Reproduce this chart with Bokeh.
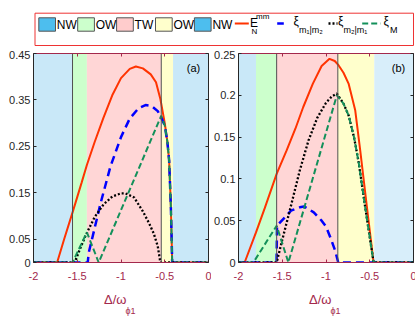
from bokeh.plotting import figure
from bokeh.layouts import column, row
from bokeh.models import Range1d, FixedTicker, LinearAxis, Span, Label
from bokeh.embed import file_html
from bokeh.resources import INLINE
from bokeh.core.properties import value

# ---------------- data ----------------
x_ticks = [-2, -1.5, -1, -0.5, 0]
x_tick_labels = ["-2", "-1.5", "-1", "-0.5", "0"]
x_label_main = "Δ/ω"
x_label_sub = "ϕ1"

a_yticks = [0, 0.05, 0.15, 0.25, 0.35, 0.45]
a_ytick_labels = ["0", "0.05", "0.15", "0.25", "0.35", "0.45"]
b_yticks = [0, 0.05, 0.1, 0.15, 0.2, 0.25]
b_ytick_labels = ["0", "0.05", "0.1", "0.15", "0.2", "0.25"]

region_names = ["NW", "OW", "TW", "OW", "NW"]
a_bounds = [-2, -1.554, -1.39, -0.54, -0.405, 0]
a_lines = [-1.554, -0.54]
a_ymax = 0.45
b_bounds = [-2, -1.80, -1.564, -0.865, -0.448, 0]
b_lines = [-1.564, -0.865]
b_ymax = 0.25

# panel (a)
a_EN_x = [-2, -1.73, -1.65, -1.55, -1.45, -1.39, -1.3, -1.2, -1.1, -1.0, -0.9, -0.83,
          -0.75, -0.66, -0.6, -0.55, -0.5, -0.47, -0.45, -0.43, -0.415, 0]
a_EN_y = [0, 0, 0.05, 0.11, 0.172, 0.21, 0.26, 0.312, 0.36, 0.397, 0.417, 0.422,
          0.418, 0.405, 0.388, 0.352, 0.30, 0.26, 0.22, 0.12, 0, 0]
a_x12_x = [-2, -1.38, -1.37, -1.3, -1.234, -1.12, -1.0, -0.9, -0.8, -0.72, -0.65, -0.58,
           -0.54, -0.5, -0.47, -0.45, -0.43, -0.415, 0]
a_x12_y = [0, 0, 0.02, 0.075, 0.127, 0.207, 0.27, 0.31, 0.332, 0.339, 0.337, 0.326,
           0.312, 0.295, 0.26, 0.22, 0.12, 0, 0]
a_x21_x = [-2, -1.53, -1.46, -1.4, -1.3, -1.2, -1.1, -1.0, -0.95, -0.85, -0.75, -0.68,
           -0.625, -0.58, -0.55, 0]
a_x21_y = [0, 0, 0.033, 0.06, 0.098, 0.125, 0.142, 0.149, 0.149, 0.14, 0.11, 0.085,
           0.062, 0.035, 0, 0]
a_xM_x = [-2, -1.554, -1.39, -1.255, -0.54, -0.5, -0.47, -0.45, -0.43, -0.415, 0]
a_xM_y = [0, 0, 0.065, 0, 0.316, 0.295, 0.26, 0.22, 0.12, 0, 0]

# panel (b)
b_EN_x = [-2, -1.93, -1.8, -1.7, -1.564, -1.45, -1.35, -1.26, -1.15, -1.05, -0.96, -0.9,
          -0.857, -0.8, -0.742, -0.666, -0.609, -0.532, -0.456, 0]
b_EN_y = [0, 0, 0.036, 0.065, 0.106, 0.134, 0.16, 0.186, 0.214, 0.235, 0.2436, 0.241,
          0.236, 0.227, 0.214, 0.182, 0.134, 0.066, 0, 0]
b_x12_x = [-2, -1.565, -1.56, -1.47, -1.4, -1.3, -1.25, -1.14, -1.05, -1.0, -0.95,
           -0.895, -0.86, 0]
b_x12_y = [0, 0, 0.044, 0.054, 0.062, 0.066, 0.067, 0.06, 0.05, 0.043, 0.03,
           0.014, 0, 0]
b_x21_x = [-2, -1.564, -1.5, -1.4, -1.3, -1.2, -1.1, -1.0, -0.93, -0.876, -0.8,
           -0.742, -0.68, -0.627, -0.552, -0.456, 0]
b_x21_y = [0, 0, 0.027, 0.068, 0.11, 0.146, 0.173, 0.191, 0.199, 0.202, 0.19,
           0.176, 0.15, 0.12, 0.066, 0, 0]
b_xM_x = [-2, -1.83, -1.564, -1.43, -0.876, -0.8, -0.742, -0.68, -0.627, -0.552, -0.456, 0]
b_xM_y = [0, 0, 0.044, 0, 0.2, 0.19, 0.176, 0.15, 0.12, 0.066, 0, 0]

# ---------------- styles ----------------
FONT = "Liberation Sans"
XCOL = "#a3284c"
YCOL = "#262626"
RED = "#ff3300"
BLUE = "#0000ff"
BLACK = "#000000"
GREEN = "#13905a"
fill_a = ["#c9e8f8", "#ccffcc", "#ffd6d6", "#ffffcc", "#c9e8f8"]
fill_b = ["#c9e8f8", "#ccffcc", "#ffd6d6", "#ffffcc", "#d8eefa"]
legend_fill = ["#4dbeee", "#ccffcc", "#ffcccc", "#ffffcc", "#4dbeee"]


def mirror_axis(ticker, col):
    return LinearAxis(ticker=ticker, axis_line_color=col, major_tick_line_color=col,
                      major_tick_in=3, major_tick_out=0, minor_tick_line_color=None,
                      major_label_text_font_size="1px", major_label_text_color=None,
                      major_label_standoff=0)


def panel(tag, bounds, lines, ymax, yticks, ylabels, fills, series, border_left):
    p = figure(frame_width=175, frame_height=209, x_range=Range1d(-2, 0),
               y_range=Range1d(0, ymax), output_backend="svg", toolbar_location=None,
               min_border_left=border_left, min_border_right=3, min_border_top=3,
               min_border_bottom=24)
    p.outline_line_color = None
    p.grid.visible = False
    p.quad(left=bounds[:-1], right=bounds[1:], bottom=[0] * len(fills),
           top=[ymax] * len(fills), fill_color=fills, line_color=None)
    for xv in lines:
        p.add_layout(Span(location=xv, dimension="height", line_color="#505050",
                          line_width=1))
    (ex, ey), (bx, by), (kx, ky), (gx, gy) = series
    p.line(ex, ey, line_color=RED, line_width=2)
    p.line(bx, by, line_color=BLUE, line_width=2.5, line_dash="8 5")
    p.line(kx, ky, line_color=BLACK, line_width=2.3, line_dash="2 2")
    p.line(gx, gy, line_color=GREEN, line_width=2, line_dash="6 3")

    xt = FixedTicker(ticks=x_ticks)
    yt = FixedTicker(ticks=yticks)
    xa = p.xaxis[0]
    xa.ticker = xt
    xa.major_label_overrides = dict(zip(x_ticks, x_tick_labels))
    ya = p.yaxis[0]
    ya.ticker = yt
    ya.major_label_overrides = dict(zip(yticks, ylabels))
    for ax, col in ((xa, XCOL), (ya, YCOL)):
        ax.axis_line_color = col
        ax.major_tick_line_color = col
        ax.major_tick_in = 3
        ax.major_tick_out = 0
        ax.minor_tick_line_color = None
        ax.major_label_text_font = FONT
        ax.major_label_text_font_size = "11px"
        ax.major_label_text_color = col
    xa.major_label_standoff = 9
    ya.major_label_standoff = 3
    p.add_layout(mirror_axis(xt, XCOL), "above")
    p.add_layout(mirror_axis(yt, YCOL), "right")

    p.add_layout(Label(x=160, y=195, x_units="screen", y_units="screen", text=tag,
                       text_font=FONT, text_font_size="11px", text_color="black",
                       text_align="center", text_baseline="middle"))
    return p


pa = panel("(a)", a_bounds, a_lines, a_ymax, a_yticks, a_ytick_labels, fill_a,
           [(a_EN_x, a_EN_y), (a_x12_x, a_x12_y), (a_x21_x, a_x21_y), (a_xM_x, a_xM_y)], 33)
pb = panel("(b)", b_bounds, b_lines, b_ymax, b_yticks, b_ytick_labels, fill_b,
           [(b_EN_x, b_EN_y), (b_x12_x, b_x12_y), (b_x21_x, b_x21_y), (b_xM_x, b_xM_y)], 26)


def strip(w, h):
    s = figure(width=w, height=h, x_range=Range1d(0, w), y_range=Range1d(0, h),
               x_axis_type=None, y_axis_type=None, output_backend="svg",
               toolbar_location=None, min_border=0)
    s.outline_line_color = None
    s.grid.visible = False
    return s


# ---------------- x-axis title strip (pixel coordinates) ----------------
xs = strip(415, 33)
for x0 in (103.5, 308.5):
    xs.text(x=[x0], y=[20], text=[x_label_main], text_font=value(FONT),
            text_font_size="13px", text_color=XCOL, text_baseline="middle",
            text_align="left")
    xs.text(x=[x0 + 21.5], y=[9], text=[x_label_sub], text_font=value(FONT),
            text_font_size="9px", text_color=XCOL, text_baseline="middle",
            text_align="left")

# ---------------- legend strip (pixel coordinates) ----------------
lg = strip(415, 50)
lg.quad(left=[34.5], right=[413], bottom=[5], top=[37.3], fill_color=None,
        line_color="#ee3333", line_width=1)
step = 38.9
pl = [38.3 + i * step for i in range(len(region_names))]
lg.quad(left=pl, right=[v + 16.7 for v in pl], bottom=[19.3] * len(pl),
        top=[32.7] * len(pl), fill_color=legend_fill, line_color="#555555", line_width=1)
lg.text(x=[v + 18 for v in pl], y=[26] * len(pl), text=region_names,
        text_font=value(FONT), text_font_size="12px", text_baseline="middle",
        text_align="left")
cy = 27
lg.line([234.3, 248.3], [cy, cy], line_color=RED, line_width=2)
lg.line([276.7, 283.3], [cy, cy], line_color=BLUE, line_width=2.5)
lg.line([328, 337], [cy, cy], line_color=BLACK, line_width=2.3, line_dash="2 2")
lg.line([361.7, 380], [cy, cy], line_color=GREEN, line_width=2, line_dash="6 3")


def t(x, y, s, size):
    lg.text(x=[x], y=[y], text=[s], text_font=value(FONT), text_font_size=size,
            text_baseline="middle", text_align="left")


t(249.5, 28, "E", "12px")
t(255.5, 34.5, "mm", "8px")
t(251, 19, "N", "8px")
t(293, 30, "ξ", "12px")
t(298.5, 21, "m₁|m₂", "9px")
t(337.5, 30, "ξ", "12px")
t(343, 21, "m₂|m₁", "9px")
t(383, 30, "ξ", "12px")
t(389.5, 21, "M", "9px")

layout = column(lg, row(pa, pb, spacing=0), xs, spacing=0)
open("out.html", "w").write(file_html(layout, INLINE))
